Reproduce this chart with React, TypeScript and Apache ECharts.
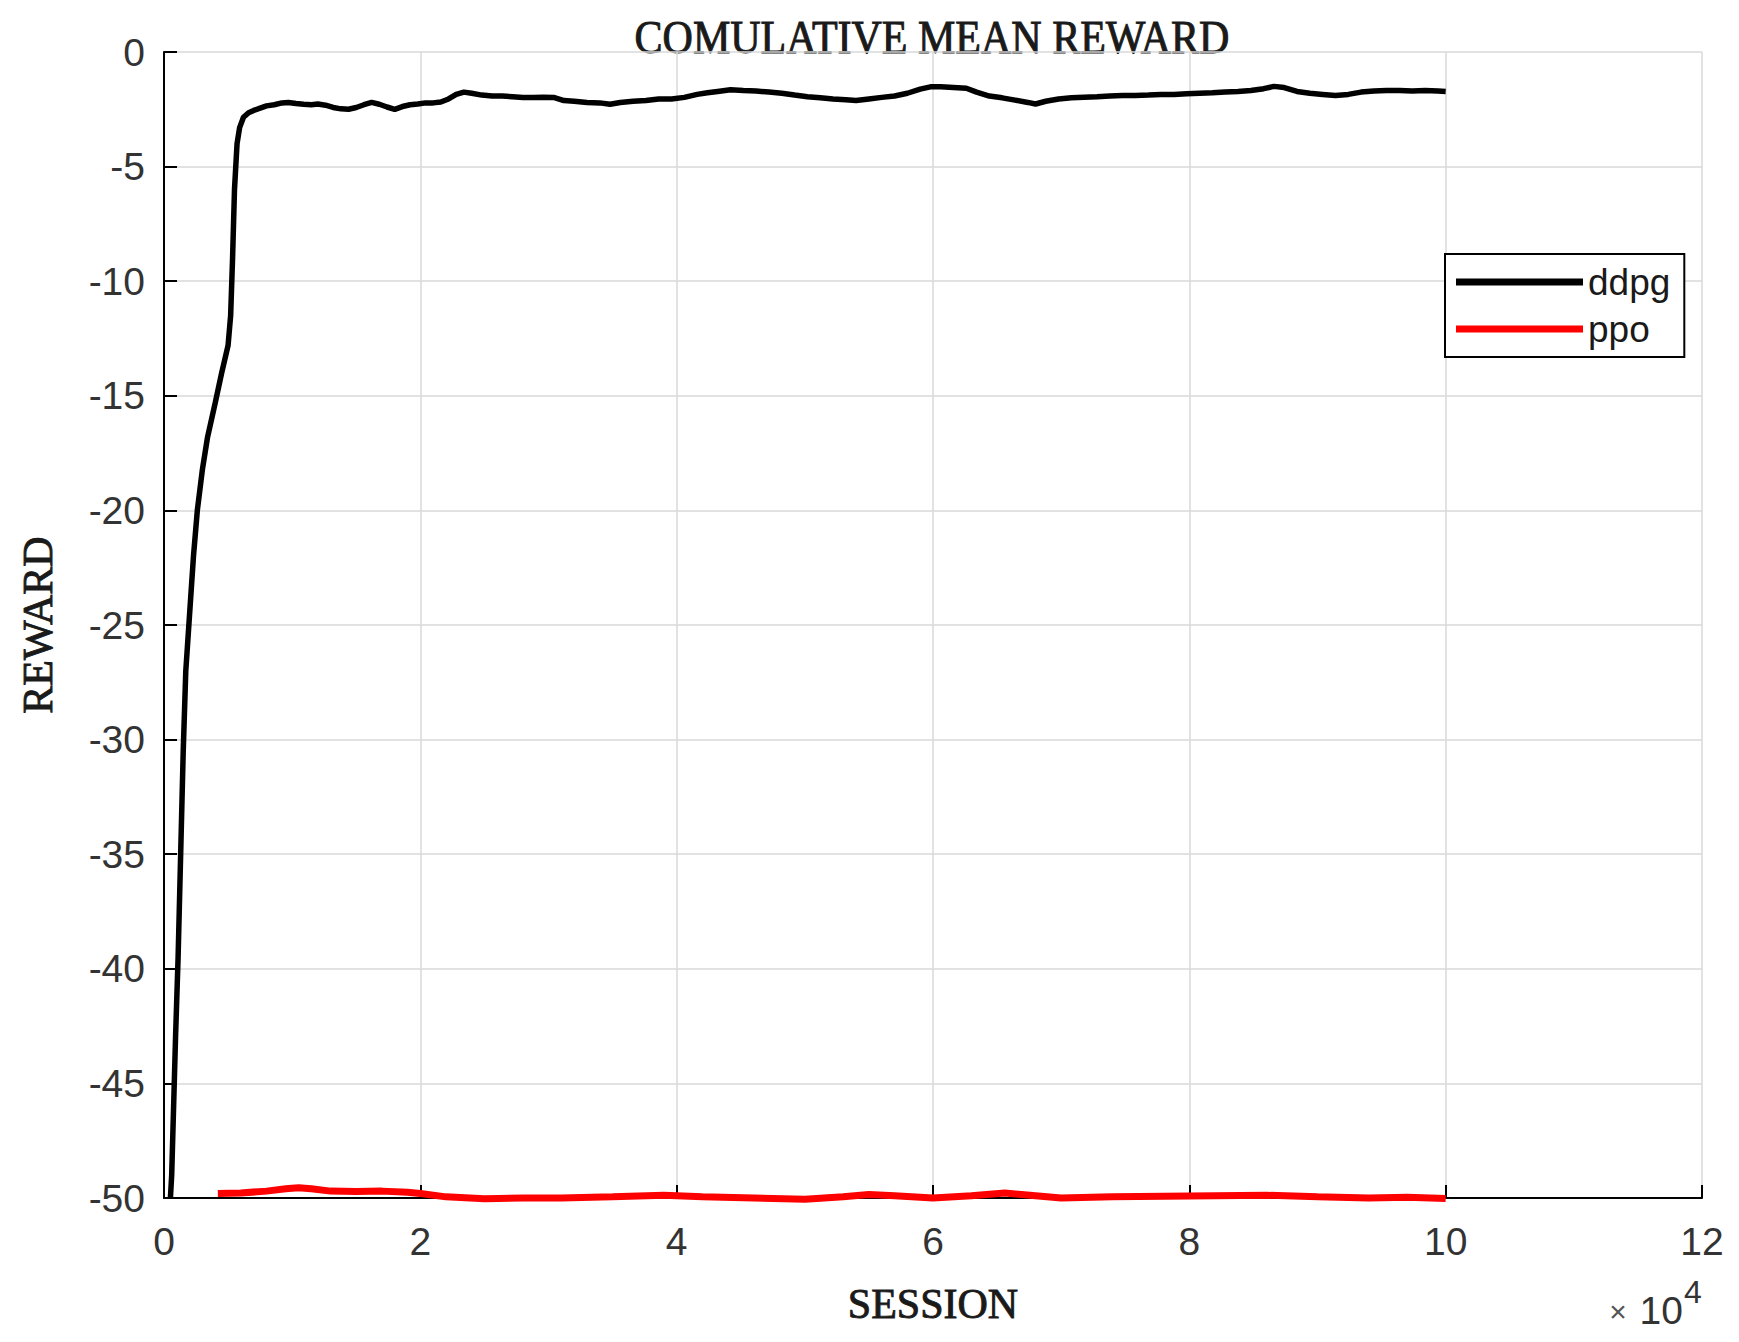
import React, { useEffect, useRef } from "react";
import * as echarts from "echarts";

// Session in units of 10^4
const ddpgX = [
  0.05, 0.06, 0.075, 0.09, 0.11, 0.13, 0.15, 0.17, 0.2, 0.23, 0.26, 0.3, 0.34, 0.4, 0.45, 0.5, 0.52, 0.535, 0.55, 0.57,
  0.59, 0.62, 0.66, 0.7, 0.75, 0.8, 0.86, 0.92, 0.97, 1.03, 1.09, 1.15, 1.2, 1.26, 1.32, 1.38, 1.44, 1.5, 1.56, 1.62,
  1.68, 1.74, 1.8, 1.86, 1.92, 1.98, 2.04, 2.1, 2.16, 2.22, 2.28, 2.34, 2.4, 2.48, 2.56, 2.64, 2.72, 2.8, 2.88, 2.96,
  3.04, 3.12, 3.2, 3.3, 3.4, 3.48, 3.56, 3.66, 3.76, 3.86, 3.96, 4.06, 4.16, 4.24, 4.32, 4.42, 4.52, 4.62, 4.72, 4.82,
  4.92, 5.02, 5.12, 5.22, 5.32, 5.4, 5.5, 5.6, 5.7, 5.8, 5.9, 5.98, 6.06, 6.16, 6.26, 6.34, 6.44, 6.54, 6.64, 6.74,
  6.8, 6.88, 6.98, 7.08, 7.18, 7.28, 7.38, 7.48, 7.58, 7.68, 7.78, 7.88, 7.98, 8.08, 8.18, 8.28, 8.38, 8.48, 8.58, 8.66,
  8.74, 8.84, 8.94, 9.04, 9.14, 9.24, 9.34, 9.44, 9.54, 9.64, 9.74, 9.84, 9.94, 10.0,
];
const ddpgY = [
  -50, -49, -46, -43, -39.5, -35, -30.5, -27, -24.5, -22, -20, -18.2, -16.8, -15.3, -14, -12.8, -11.5, -9, -6, -4,
  -3.3, -2.85, -2.65, -2.55, -2.45, -2.35, -2.3, -2.22, -2.2, -2.25, -2.28, -2.3, -2.27, -2.32, -2.42, -2.48, -2.5, -2.42, -2.3, -2.2,
  -2.28, -2.4, -2.5, -2.38, -2.3, -2.27, -2.22, -2.22, -2.18, -2.05, -1.85, -1.75, -1.8, -1.88, -1.92, -1.92, -1.95, -1.98, -1.98, -1.97,
  -1.98, -2.12, -2.15, -2.2, -2.22, -2.28, -2.2, -2.15, -2.12, -2.05, -2.05, -1.98, -1.85, -1.78, -1.72, -1.65, -1.68, -1.7, -1.75, -1.8,
  -1.88, -1.95, -2.0, -2.05, -2.08, -2.12, -2.05, -1.98, -1.92, -1.8, -1.62, -1.52, -1.52, -1.55, -1.58, -1.75, -1.92, -2.0, -2.1, -2.2,
  -2.27, -2.15, -2.05, -2.0, -1.97, -1.95, -1.92, -1.9, -1.9, -1.88, -1.85, -1.85, -1.82, -1.8, -1.78, -1.75, -1.72, -1.68, -1.6, -1.5,
  -1.55, -1.72, -1.8, -1.85, -1.9, -1.85, -1.75, -1.7, -1.68, -1.68, -1.7, -1.68, -1.7, -1.72,
];

const ppoX = [
  0.42, 0.6, 0.8, 0.95, 1.05, 1.15, 1.3, 1.5, 1.7, 1.9, 2.0, 2.2, 2.5, 2.8, 3.1, 3.5, 3.9, 4.2, 4.6, 5.0,
  5.3, 5.5, 5.7, 6.0, 6.3, 6.56, 6.8, 7.0, 7.4, 7.8, 8.2, 8.6, 9.0, 9.4, 9.7, 10.0,
];
const ppoY = [
  -49.8, -49.78, -49.7, -49.6, -49.55, -49.6, -49.7, -49.72, -49.7, -49.75, -49.8, -49.95, -50.03, -50.0, -50.0, -49.95, -49.88, -49.95, -50.0, -50.05,
  -49.95, -49.85, -49.9, -50.0, -49.9, -49.78, -49.9, -50.0, -49.95, -49.92, -49.9, -49.88, -49.95, -50.0, -49.97, -50.02,
];

const seriesNames = ["ddpg", "ppo"];
const titleText = "COMULATIVE MEAN REWARD";
const xName = "SESSION";
const yName = "REWARD";

const SANS = "'Liberation Sans', Arial, sans-serif";
const SERIF = "'Liberation Serif', 'Times New Roman', serif";
const NAME_STYLE = {
  fontFamily: SERIF,
  fontWeight: "normal",
  fontSize: 42,
  color: "#1a1a1a",
  verticalAlign: "middle",
  textBorderColor: "#1a1a1a",
  textBorderWidth: 0.9,
};

export default function App() {
  const ref = useRef<HTMLDivElement>(null);
  useEffect(() => {
    document.body.style.margin = "0";
    const chart = echarts.init(ref.current!, null, { renderer: "svg" });
    const zip = (xs: number[], ys: number[]) => xs.map((x, i) => [x, ys[i]]);
    chart.setOption({
      animation: false,
      backgroundColor: "#ffffff",
      grid: { left: 164, top: 52, right: 37, bottom: 144, containLabel: false },
      xAxis: {
        type: "value",
        min: 0,
        max: 12,
        interval: 2,
        name: xName,
        nameLocation: "middle",
        nameGap: 106,
        nameTextStyle: NAME_STYLE,
        axisLine: { show: true, onZero: false, lineStyle: { color: "#000", width: 2 } },
        axisTick: { show: true, inside: true, length: 13, lineStyle: { color: "#000", width: 2 } },
        axisLabel: { fontFamily: SANS, fontSize: 39, color: "#333333", margin: 24 },
        splitLine: { show: true, lineStyle: { color: "#d9d9d9", width: 1.5 } },
      },
      yAxis: {
        type: "value",
        min: -50,
        max: 0,
        interval: 5,
        name: yName,
        nameLocation: "middle",
        nameRotate: 90,
        nameGap: 126,
        nameTextStyle: NAME_STYLE,
        axisLine: { show: true, onZero: false, lineStyle: { color: "#000", width: 2 } },
        axisTick: { show: true, inside: true, length: 13, lineStyle: { color: "#000", width: 2 } },
        axisLabel: { fontFamily: SANS, fontSize: 39, color: "#333333", margin: 19 },
        splitLine: { show: true, lineStyle: { color: "#d9d9d9", width: 1.5 } },
      },
      legend: {
        orient: "vertical",
        left: 1445,
        top: 254,
        padding: [8, 14, 8, 11],
        itemWidth: 127,
        itemHeight: 7,
        itemGap: 7,
        icon: "rect",
        borderColor: "#000",
        borderWidth: 2,
        backgroundColor: "#fff",
        textStyle: { fontFamily: SANS, fontSize: 37, color: "#1a1a1a", lineHeight: 40 },
        data: seriesNames,
      },
      graphic: [
        {
          type: "text",
          x: 932,
          y: 37,
          scaleY: 1.08,
          style: {
            text: titleText,
            font: `42px ${SERIF}`,
            fill: "#1a1a1a",
            stroke: "#1a1a1a",
            lineWidth: 0.9,
            textAlign: "center",
            textVerticalAlign: "middle",
          },
        },
        {
          type: "text",
          x: 1618,
          y: 1311,
          style: {
            text: "×",
            font: `30px ${SANS}`,
            fill: "#555555",
            textAlign: "center",
            textVerticalAlign: "middle",
          },
        },
        {
          type: "text",
          x: 1683,
          y: 1310,
          style: {
            text: "10",
            font: `39px ${SANS}`,
            fill: "#333333",
            textAlign: "right",
            textVerticalAlign: "middle",
          },
        },
        {
          type: "text",
          x: 1684,
          y: 1292,
          style: {
            text: "4",
            font: `32px ${SANS}`,
            fill: "#333333",
            textAlign: "left",
            textVerticalAlign: "middle",
          },
        },
      ],
      series: [
        {
          name: seriesNames[0],
          type: "line",
          data: zip(ddpgX, ddpgY),
          showSymbol: false,
          symbol: "none",
          clip: false,
          color: "#000000",
          itemStyle: { color: "#000000" },
          lineStyle: { color: "#000000", width: 5.5 },
          z: 3,
        },
        {
          name: seriesNames[1],
          type: "line",
          data: zip(ppoX, ppoY),
          showSymbol: false,
          symbol: "none",
          clip: false,
          color: "#ff0000",
          itemStyle: { color: "#ff0000" },
          lineStyle: { color: "#ff0000", width: 7 },
          z: 4,
        },
      ],
    });
    return () => chart.dispose();
  }, []);
  return <div ref={ref} style={{ position: "absolute", left: 0, top: 0, width: 1739, height: 1342 }} />;
}
